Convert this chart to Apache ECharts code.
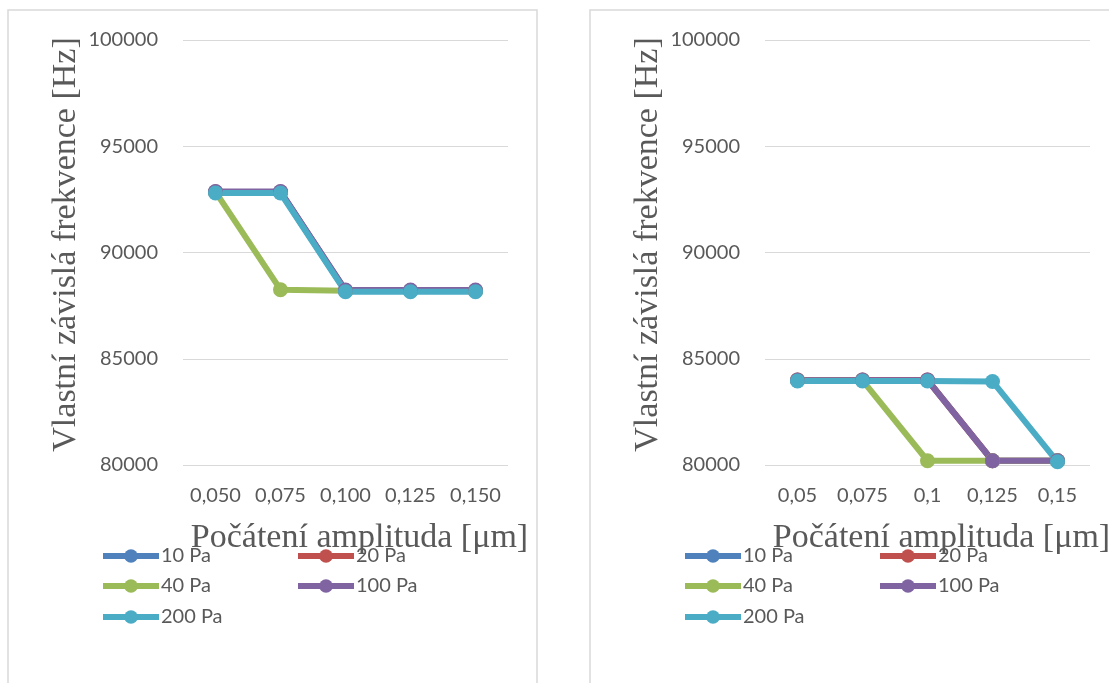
<!DOCTYPE html>
<html>
<head>
<meta charset="utf-8">
<script src="https://cdn.jsdelivr.net/npm/echarts@6/dist/echarts.min.js"></script>
<style>html,body{margin:0;padding:0;background:#fff;}#c{width:1109px;height:683px;}</style>
</head>
<body>
<div id="c"></div>
<script>
const categoriesLeft = ['0,050', '0,075', '0,100', '0,125', '0,150'];
const categoriesRight = ['0,05', '0,075', '0,1', '0,125', '0,15'];
const seriesNames = ['10 Pa', '20 Pa', '40 Pa', '100 Pa', '200 Pa'];
const yMin = 80000, yMax = 100000, yStep = 5000;

const left10 = [92850, 92850, 88200, 88200, 88200];
const left20 = [92850, 92850, 88200, 88200, 88200];
const left40 = [92850, 88250, 88200, 88200, 88200];
const left100 = [92870, 92870, 88230, 88230, 88230];
const left200 = [92800, 92800, 88150, 88150, 88150];

const right10 = [84000, 84000, 84000, 80200, 80200];
const right20 = [84000, 84000, 84000, 80200, 80200];
const right40 = [83980, 83980, 80200, 80200, 80200];
const right100 = [83990, 83990, 83990, 80200, 80200];
const right200 = [83950, 83950, 83950, 83930, 80150];

const colors = ['#4F81BD', '#C0504D', '#9BBB59', '#8064A2', '#4BACC6'];
const leftData = [left10, left20, left40, left100, left200];
const rightData = [right10, right20, right40, right100, right200];

const txt = '#595959';
const sansFont = 'Lato';
const serifFont = 'Liberation Serif';

function xAxis(idx, cats) {
  return {
    type: 'category', gridIndex: idx, data: cats, boundaryGap: true,
    axisLine: {show: false}, axisTick: {show: false},
    axisLabel: {color: txt, fontSize: 20, fontFamily: sansFont, margin: 21, interval: 0},
    name: 'Počátení amplituda [μm]', nameLocation: 'middle', nameGap: 56,
    nameTextStyle: {color: txt, fontSize: 34, fontFamily: serifFont, padding: [0, 0, 0, 28]}
  };
}
function yAxis(idx) {
  return {
    type: 'value', gridIndex: idx, min: yMin, max: yMax, interval: yStep,
    axisLine: {show: false}, axisTick: {show: false},
    splitLine: {lineStyle: {color: '#d9d9d9', width: 1}},
    axisLabel: {color: txt, fontSize: 20, fontFamily: sansFont, margin: 25,
      formatter: v => String(v)},
    name: 'Vlastní závislá frekvence [Hz]', nameLocation: 'middle', nameGap: 100,
    nameTextStyle: {color: txt, fontSize: 34, fontFamily: serifFont, padding: [0, 0, 0, 16]}
  };
}
const series = [];
[leftData, rightData].forEach((set, gi) => {
  set.forEach((vals, i) => {
    series.push({
      name: seriesNames[i], type: 'line', xAxisIndex: gi, yAxisIndex: gi,
      data: vals, symbol: 'circle', symbolSize: 15,
      lineStyle: {width: 6, color: colors[i]},
      itemStyle: {color: colors[i]},
      animation: false
    });
  });
});
const legendPos = [
  [100, 546], [295, 546], [100, 576], [295, 576], [100, 607]
];
const legends = [];
[0, 582].forEach(off => {
  seriesNames.forEach((n, i) => {
    legends.push({
      data: [n], left: legendPos[i][0] + off, top: legendPos[i][1],
      itemWidth: 56, itemHeight: 17, itemGap: 0,
      lineStyle: {width: 6},
      textStyle: {color: txt, fontSize: 20, fontFamily: sansFont, padding: [0, 0, 0, -3]},
      selectedMode: false, padding: 0
    });
  });
});

const chart = echarts.init(document.getElementById('c'));
chart.setOption({
  backgroundColor: '#fff',
  color: colors,
  animation: false,
  grid: [
    {left: 183, top: 40, width: 325, height: 425, containLabel: false, outerBoundsMode: 'none'},
    {left: 765, top: 40, width: 325, height: 425, containLabel: false, outerBoundsMode: 'none'}
  ],
  xAxis: [xAxis(0, categoriesLeft), xAxis(1, categoriesRight)],
  yAxis: [yAxis(0), yAxis(1)],
  legend: legends,
  graphic: [
    {type: 'rect', shape: {x: 8, y: 10, width: 529, height: 700}, style: {fill: 'none', stroke: '#d9d9d9', lineWidth: 1.5}, silent: true},
    {type: 'rect', shape: {x: 590, y: 10, width: 600, height: 700}, style: {fill: 'none', stroke: '#d9d9d9', lineWidth: 1.5}, silent: true}
  ],
  series: series
});
</script>
</body>
</html>
